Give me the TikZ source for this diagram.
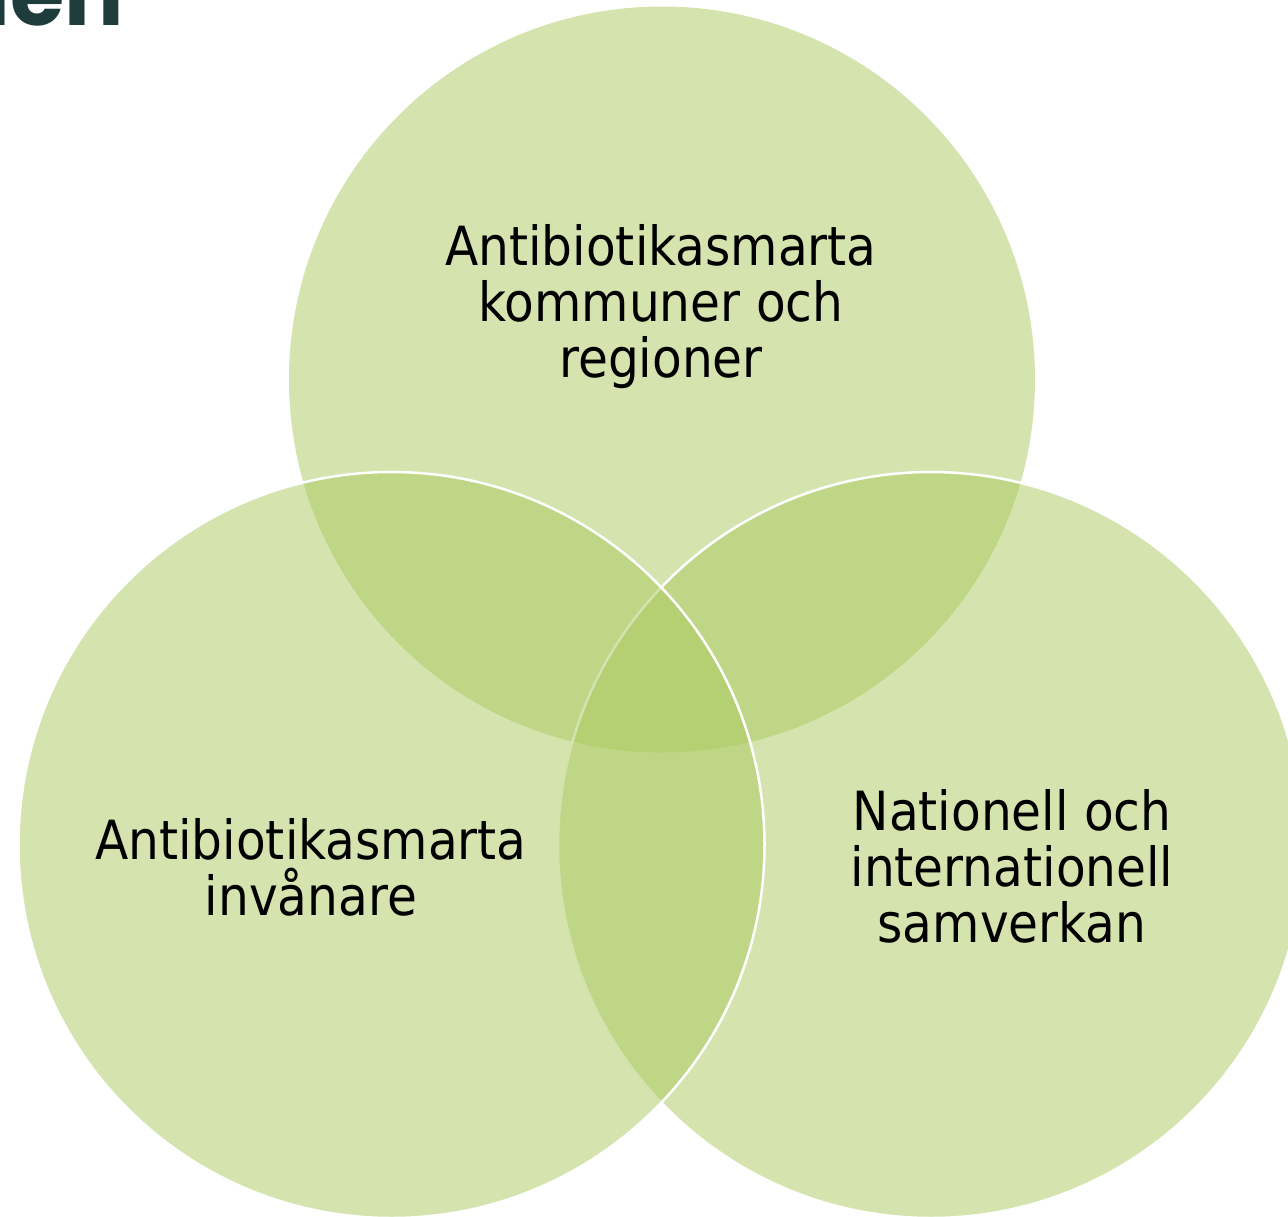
\documentclass[tikz,border=0pt]{standalone}
\usepackage{fontspec}
\setmainfont{DejaVu Sans Condensed}
\newfontfamily\titlefont{Poppins}
\usepackage{tikz}
\usetikzlibrary{positioning}
\definecolor{vgreen}{RGB}{171,201,95}
\definecolor{vtitle}{RGB}{30,60,60}
\tikzstyle{venn} = [circle, minimum size=746pt, inner sep=0pt, fill=vgreen, fill opacity=0.5, draw=none]
\tikzstyle{vennline} = [draw=white, draw opacity=1, line width=2.5pt]
\tikzstyle{vlabel} = [align=center, inner sep=0pt, font=\fontsize{54}{56}\selectfont, text=black]

\begin{document}
\begin{tikzpicture}[x=1pt, y=-1pt]
\useasboundingbox (0,0) rectangle (1288,1216);
\clip (0,0) rectangle (1288,1216);
% title, cut off at the top
\node (title) [anchor=base east, inner sep=0pt, text=vtitle, font=\titlefont\bfseries\fontsize{88}{90}\selectfont] at (124,25) {ien};

% circles
\node (kommun) [venn] at (662,379.5) {};
\node (samverkan) [venn, vennline] at (931,845) {};
\node (invanare) [venn, vennline] at (391.5,845) {};

% labels
\node (kommuntext) [vlabel, anchor=base] at (661,377) {Antibiotikasmarta\\kommuner och\\regioner};
\node (invanaretext) [vlabel, anchor=base] at (311,915) {Antibiotikasmarta\\invånare};
\node (samverkantext) [vlabel, anchor=base] at (1012,942) {Nationell och\\internationell\\samverkan};
\end{tikzpicture}
\end{document}
